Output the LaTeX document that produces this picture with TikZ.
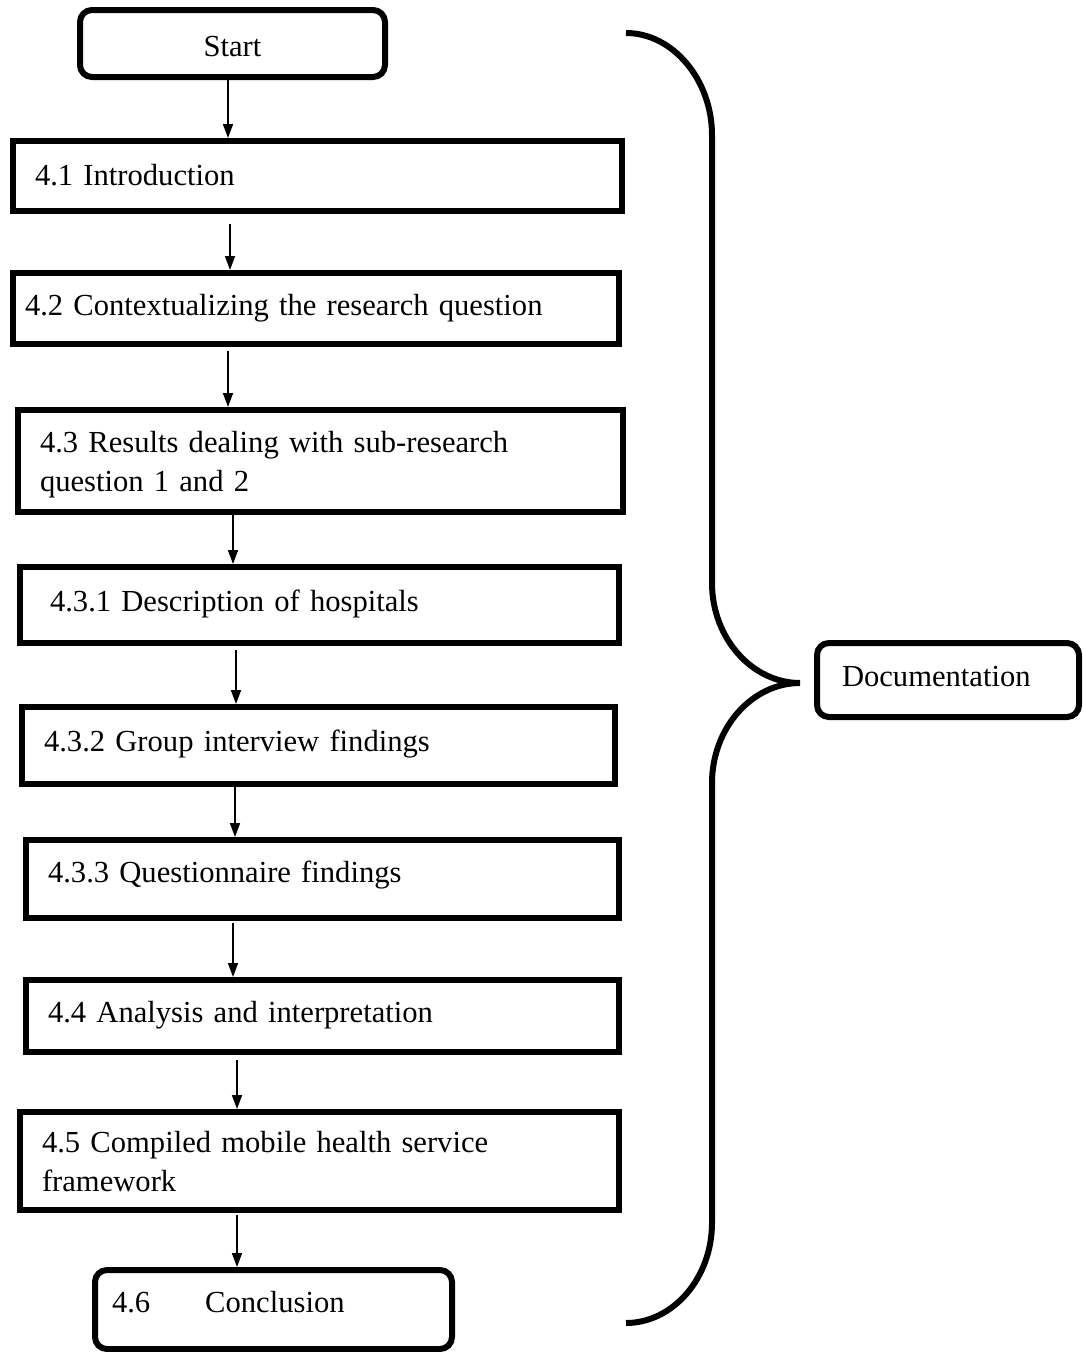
\documentclass[tikz,border=0pt]{standalone}
\usepackage{fontspec}
\setmainfont{Liberation Serif}
\usetikzlibrary{arrows.meta}

\begin{document}
\begin{tikzpicture}[x=1pt,y=-1pt,
  every node/.style={font=\fontsize{30.6}{39.5}\selectfont},
  stage/.style={draw, line width=6pt, rectangle, align=left, inner ysep=8pt},
  rstage/.style={stage, rounded corners=12pt},
  % baseline sits #1/2 below the node centre
  drop/.style={text height=#1, text depth=0pt},
  twoline/.style={text height=0pt, text depth=18pt},
  flow/.style={line width=1.6pt, -{Triangle[length=14pt,width=10pt]}},
  brace/.style={line width=6pt}]

\useasboundingbox (0,0) rectangle (1083,1352);

% process stages
\node[rstage, align=center, drop=25pt, minimum width=305, minimum height=67] (start) at (232.5,43.5) {Start};
\node[stage, drop=18pt, minimum width=609, minimum height=70, inner xsep=22, text width=565] (s41) at (317.5,176) {4.1 Introduction};
\node[stage, drop=13pt, minimum width=606, minimum height=71, inner xsep=12, text width=582] (s42) at (316,308.5) {4.2 Contextualizing the research question};
\node[stage, twoline, minimum width=605, minimum height=102, inner xsep=22, text width=561] (s43) at (320.5,461) {4.3 Results dealing with sub-research\\question 1 and 2};
\node[stage, drop=12pt, minimum width=599, minimum height=76, inner xsep=30, text width=539] (s431) at (319.5,605) {4.3.1 Description of hospitals};
\node[stage, drop=11pt, minimum width=593, minimum height=77, inner xsep=22, text width=549] (s432) at (318.5,745.5) {4.3.2 Group interview findings};
\node[stage, drop=6pt, minimum width=593, minimum height=78, inner xsep=22, text width=549] (s433) at (322.5,879) {4.3.3 Questionnaire findings};
\node[stage, drop=12pt, minimum width=593, minimum height=72, inner xsep=22, text width=549] (s44) at (322.5,1016) {4.4 Analysis and interpretation};
\node[stage, twoline, minimum width=599, minimum height=98, inner xsep=22, text width=555] (s45) at (319.5,1161) {4.5 Compiled mobile health service\\framework};
\node[rstage, drop=5pt, minimum width=357, minimum height=79, inner xsep=17, text width=323] (s46) at (273.5,1309.5) {4.6\hspace{55pt}Conclusion};

% side label
\node[rstage, drop=12pt, minimum width=262, minimum height=74, inner xsep=25, text width=212] (doc) at (948,680) {Documentation};

% arrow columns
\coordinate (a1) at (228,0);
\coordinate (a2) at (230,0);
\coordinate (a3) at (228,0);
\coordinate (a4) at (233,0);
\coordinate (a5) at (236,0);
\coordinate (a6) at (235,0);
\coordinate (a7) at (233,0);
\coordinate (a8) at (237,0);
\coordinate (a9) at (237,0);

\draw[flow] (start.south -| a1) -- (s41.north -| a1);
\draw[flow, shorten <=10pt] (s41.south -| a2) -- (s42.north -| a2);
\draw[flow, shorten <=4pt] (s42.south -| a3) -- (s43.north -| a3);
\draw[flow] (s43.south -| a4) -- (s431.north -| a4);
\draw[flow, shorten <=4pt] (s431.south -| a5) -- (s432.north -| a5);
\draw[flow] (s432.south -| a6) -- (s433.north -| a6);
\draw[flow, shorten <=2pt] (s433.south -| a7) -- (s44.north -| a7);
\draw[flow, shorten <=5pt] (s44.south -| a8) -- (s45.north -| a8);
\draw[flow, shorten <=2pt] (s45.south -| a9) -- (s46.north -| a9);

% curly brace grouping the stages
\coordinate (tip) at (800,683);
\draw[brace] (626,33) .. controls (673,33) and (712,80) .. (712,135)
  -- (712,583) .. controls (712,638) and (752,683) .. (tip)
  .. controls (752,683) and (712,728) .. (712,783)
  -- (712,1223) .. controls (712,1278) and (673,1323) .. (626,1323);

\end{tikzpicture}
\end{document}
